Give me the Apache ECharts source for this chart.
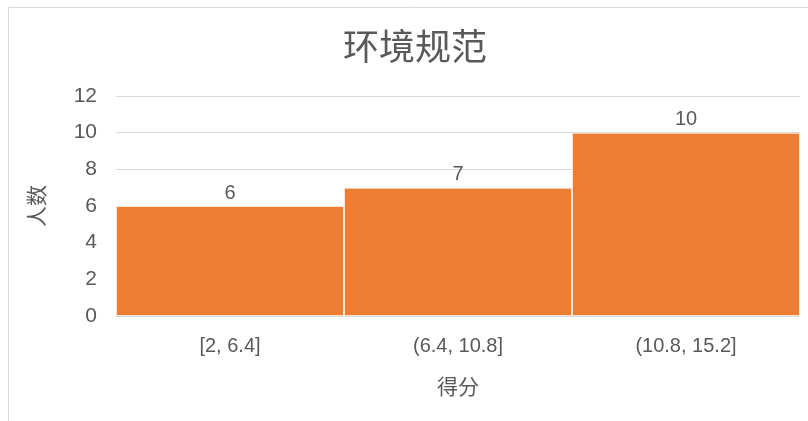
<!DOCTYPE html>
<html><head><meta charset="utf-8">
<script src="https://cdn.jsdelivr.net/npm/echarts@6/dist/echarts.min.js"></script>
<style>html,body{margin:0;padding:0;background:#fff;}#c{width:808px;height:421px;}</style>
</head><body><div id="c"></div>
<script>
const categories = ["[2, 6.4]", "(6.4, 10.8]", "(10.8, 15.2]"];
const counts = [6, 7, 10];
const yTicks = [0, 12, 2];
const chart = echarts.init(document.getElementById('c'));
const font = "'Liberation Sans', 'Noto Sans CJK SC', sans-serif";
chart.setOption({
  animation: false,
  textStyle: {fontFamily: font},
  title: {text: '环境规范', left: 338, top: 27,
    textStyle: {fontSize: 36, fontWeight: 'normal', color: '#595959', fontFamily: font}},
  graphic: [{type: 'rect', shape: {x: 8.5, y: 7.5, width: 900, height: 500},
    style: {fill: 'none', stroke: '#d9d9d9', lineWidth: 1}, silent: true}],
  grid: {left: 116, right: 8, top: 96, bottom: 105},
  xAxis: {type: 'category', data: categories,
    name: '得分', nameLocation: 'middle', nameGap: 62,
    nameTextStyle: {fontSize: 21, color: '#595959'},
    axisLine: {lineStyle: {color: '#d9d9d9'}}, axisTick: {show: false},
    axisLabel: {fontSize: 20, color: '#595959', margin: 20}},
  yAxis: {type: 'value', min: yTicks[0], max: yTicks[1], interval: yTicks[2],
    name: '人数', nameLocation: 'middle', nameGap: 67, nameRotate: 90,
    nameTextStyle: {fontSize: 21, color: '#595959'},
    axisLine: {show: false}, axisTick: {show: false},
    splitLine: {lineStyle: {color: '#d9d9d9', width: 1}},
    axisLabel: {fontSize: 21, color: '#595959', margin: 19}},
  series: [{type: 'bar', data: counts, barCategoryGap: '0%',
    itemStyle: {color: '#ED7D31', borderColor: '#fbe5d6', borderWidth: 1},
    label: {show: true, position: 'top', fontSize: 20, color: '#595959', distance: 3}}]
});
</script></body></html>
